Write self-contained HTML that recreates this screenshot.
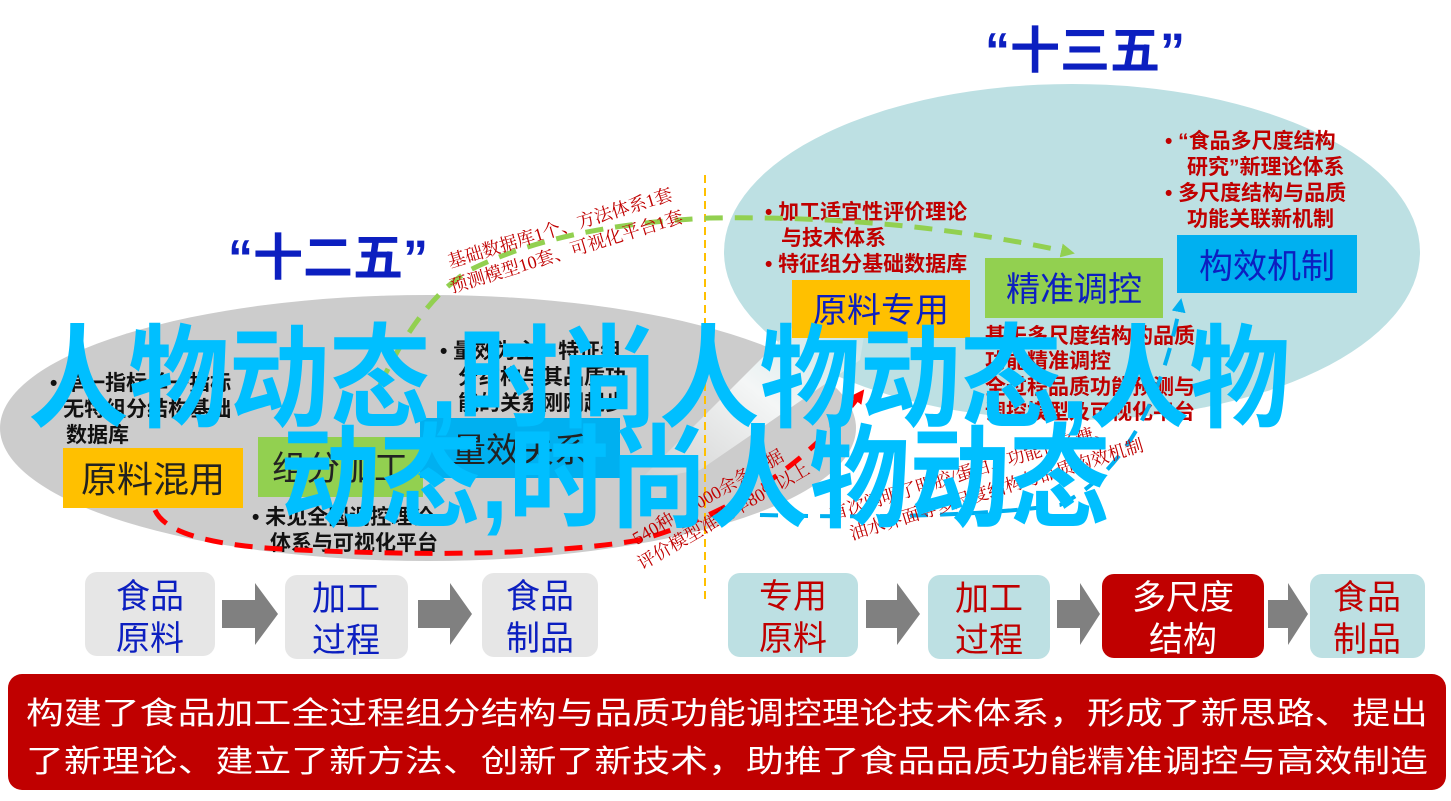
<!DOCTYPE html>
<html><head><meta charset="utf-8"><style>
html,body{margin:0;padding:0;background:#fff;}
body{width:1451px;height:801px;overflow:hidden;position:relative;font-family:"Liberation Sans","Noto Sans CJK SC",sans-serif;}
svg{position:absolute;left:0;top:0;}
text{font-family:"Liberation Sans","Noto Sans CJK SC",sans-serif;}
.s{font-family:"Liberation Serif","Noto Serif CJK SC",serif;}
</style></head><body>
<svg width="1451" height="801" viewBox="0 0 1451 801">
<defs>
<marker id="ag" markerWidth="14" markerHeight="14" refX="7" refY="7" orient="auto" markerUnits="userSpaceOnUse"><path d="M0,0 L14,7 L0,14 z" fill="#92d050"/></marker>
<marker id="ar" markerWidth="14" markerHeight="14" refX="7" refY="7" orient="auto" markerUnits="userSpaceOnUse"><path d="M0,0 L14,7 L0,14 z" fill="#ff0000"/></marker>
<marker id="ab" markerWidth="14" markerHeight="14" refX="7" refY="7" orient="auto" markerUnits="userSpaceOnUse"><path d="M0,0 L14,7 L0,14 z" fill="#00b0f0"/></marker>
<linearGradient id="fold" x1="0" y1="1" x2="1" y2="0"><stop offset="0" stop-color="#cfcfcf"/><stop offset="0.5" stop-color="#f4f6f6"/><stop offset="1" stop-color="#bde0e3"/></linearGradient>
</defs>
<ellipse cx="1072" cy="252" rx="348" ry="168" fill="#bde0e3"/>
<ellipse cx="428" cy="428" rx="428" ry="133" fill="#cccccc"/>
<path d="M640,480 L800,320 L870,300 L860,360 L700,470 Z" fill="url(#fold)"/>
<line x1="705" y1="175" x2="705" y2="600" stroke="#ffc000" stroke-width="2" stroke-dasharray="8,5"/>
<text x="228" y="275" font-size="50" font-weight="bold" fill="#0c1fc0">“十二五”</text>
<text x="985" y="68" font-size="50" font-weight="bold" fill="#0c1fc0">“十三五”</text>
<rect x="63" y="448" width="180" height="60" fill="#ffc000"/>
<text x="153" y="492" font-size="36" text-anchor="middle" fill="#222">原料混用</text>
<rect x="258" y="437" width="165" height="60" fill="#92d050"/>
<text x="340" y="480" font-size="34" text-anchor="middle" fill="#222">组分加工</text>
<rect x="420" y="418" width="200" height="60" fill="#00b0f0"/>
<text x="520" y="462" font-size="34" text-anchor="middle" fill="#222">量效关系</text>
<g font-size="21" font-weight="bold" fill="#111">
<text x="50" y="390">• 单一指标单一指标</text>
<text x="50" y="416">• 无特组分结构基础</text>
<text x="66" y="442">数据库</text>
<text x="440" y="358">• 量效为主，特征组</text>
<text x="458" y="384">分结构与其品质功</text>
<text x="458" y="410">能的关系刚刚起步</text>
<text x="252" y="524">• 未见全国调控理论</text>
<text x="270" y="550">体系与可视化平台</text>
</g>
<rect x="792" y="280" width="178" height="58" fill="#ffc000"/>
<text x="881" y="322" font-size="34" text-anchor="middle" fill="#0c1fc0">原料专用</text>
<rect x="985" y="258" width="178" height="60" fill="#92d050"/>
<text x="1074" y="301" font-size="34" text-anchor="middle" fill="#0c1fc0">精准调控</text>
<rect x="1177" y="235" width="180" height="58" fill="#00b0f0"/>
<text x="1267" y="278" font-size="34" text-anchor="middle" fill="#0c1fc0">构效机制</text>
<g font-size="21" font-weight="bold" fill="#c00000">
<text x="1165" y="148">•  “食品多尺度结构</text>
<text x="1187" y="174">研究”新理论体系</text>
<text x="1165" y="200">• 多尺度结构与品质</text>
<text x="1187" y="226">功能关联新机制</text>
<text x="765" y="219">• 加工适宜性评价理论</text>
<text x="781" y="245">与技术体系</text>
<text x="765" y="271">• 特征组分基础数据库</text>
<text x="985" y="343">基于多尺度结构的品质</text>
<text x="985" y="368">功能精准调控</text>
<text x="985" y="394">全过程品质功能预测与</text>
<text x="985" y="419">调控模型及可视化平台</text>
</g>
<path d="M380,385 Q420,300 470,270 Q560,225 710,218 Q900,215 1068,252" fill="none" stroke="#92d050" stroke-width="5" stroke-dasharray="18,12" marker-end="url(#ag)"/>
<path d="M155,510 Q170,545 300,550 Q520,560 640,540 Q780,500 860,395" fill="none" stroke="#ff0000" stroke-width="5" stroke-dasharray="18,12" marker-end="url(#ar)"/>
<path d="M760,515 Q950,520 1060,505 Q1150,460 1180,305" fill="none" stroke="#00b0f0" stroke-width="4" stroke-dasharray="18,12" marker-end="url(#ab)"/>
<g font-size="18" fill="#c00000" class="s">
<text class="s" transform="translate(450,268) rotate(-17)">基础数据库1个、方法体系1套</text>
<text class="s" transform="translate(452,293) rotate(-17)">预测模型10套、可视化平台1套</text>
<text class="s" transform="translate(637,545) rotate(-30)">540种，4000余条数据</text>
<text class="s" transform="translate(642,570) rotate(-30)">评价模型准确率80%以上</text>
<text class="s" transform="translate(832,520) rotate(-17)">首次阐明了明胶/蛋白、功能性多糖、</text>
<text class="s" transform="translate(852,540) rotate(-17)">油水界面等多尺度结构与品质构效机制</text>
</g>
<g font-size="34" text-anchor="middle">
<rect x="85" y="572" width="130" height="84" rx="12" fill="#e6e6e6"/>
<text x="150" y="608" fill="#0c1fc0">食品</text><text x="150" y="650" fill="#0c1fc0">原料</text>
<rect x="285" y="575" width="123" height="84" rx="12" fill="#e6e6e6"/>
<text x="346" y="610" fill="#0c1fc0">加工</text><text x="346" y="652" fill="#0c1fc0">过程</text>
<rect x="482" y="573" width="116" height="84" rx="12" fill="#e6e6e6"/>
<text x="540" y="608" fill="#0c1fc0">食品</text><text x="540" y="650" fill="#0c1fc0">制品</text>
<rect x="728" y="573" width="130" height="84" rx="12" fill="#bde0e3"/>
<text x="793" y="608" fill="#c00000">专用</text><text x="793" y="650" fill="#c00000">原料</text>
<rect x="928" y="575" width="122" height="84" rx="12" fill="#bde0e3"/>
<text x="989" y="610" fill="#c00000">加工</text><text x="989" y="652" fill="#c00000">过程</text>
<rect x="1102" y="574" width="162" height="84" rx="12" fill="#c00000"/>
<text x="1183" y="609" fill="#fff">多尺度</text><text x="1183" y="651" fill="#fff">结构</text>
<rect x="1310" y="574" width="115" height="84" rx="12" fill="#bde0e3"/>
<text x="1367" y="609" fill="#c00000">食品</text><text x="1367" y="651" fill="#c00000">制品</text>
</g>
<g fill="#808080">
<path d="M222,600 H255 V583 L278,614 L255,645 V628 H222 Z"/>
<path d="M418,600 H450 V583 L472,614 L450,645 V628 H418 Z"/>
<path d="M866,600 H897 V583 L920,614 L897,645 V628 H866 Z"/>
<path d="M1057,600 H1080 V583 L1100,614 L1080,645 V628 H1057 Z"/>
<path d="M1268,600 H1288 V583 L1308,614 L1288,645 V628 H1268 Z"/>
</g>
<rect x="8" y="674" width="1438" height="116" rx="14" fill="#c00000"/>
<g font-size="31" fill="#fff">
<text x="26" y="724" textLength="1402" lengthAdjust="spacingAndGlyphs">构建了食品加工全过程组分结构与品质功能调控理论技术体系，形成了新思路、提出</text>
<text x="26" y="772" textLength="1402" lengthAdjust="spacingAndGlyphs">了新理论、建立了新方法、创新了新技术，助推了食品品质功能精准调控与高效制造</text>
</g>
<g font-size="112" font-weight="bold" fill="#00bfff">
<text x="28" y="418" textLength="1262" lengthAdjust="spacingAndGlyphs">人物动态,时尚人物动态,人物</text>
<text x="280" y="518" textLength="830" lengthAdjust="spacingAndGlyphs">动态,时尚人物动态</text>
</g>
</svg>
</body></html>
